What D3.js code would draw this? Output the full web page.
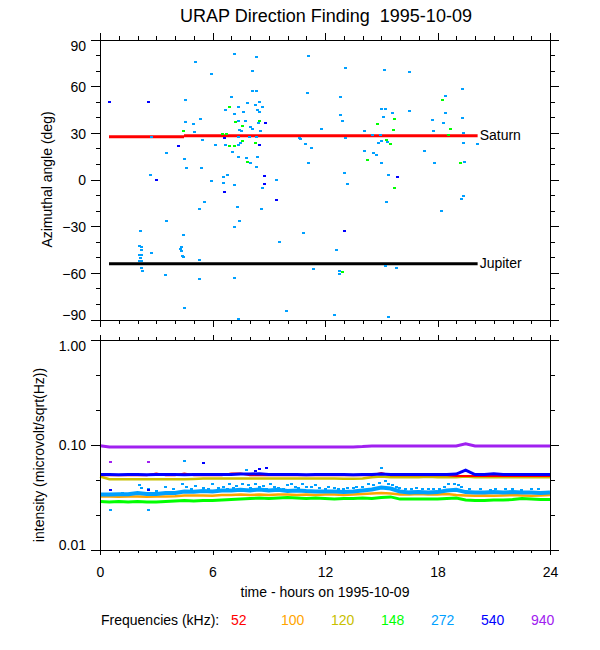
<!DOCTYPE html>
<html>
<head>
<meta charset="utf-8">
<script src="https://cdn.jsdelivr.net/npm/d3@7"></script>
<style>
body { margin: 0; background: #fff; }
text { font-family: "Liberation Sans", Arial, Helvetica, sans-serif; }
</style>
</head>
<body>
<div id="chart"></div>
<script>
// ---- data ----
var freqLabels = ["52", "100", "120", "148", "272", "540", "940"];
var freqColors = ["#ff0000", "#ffa500", "#c8c000", "#00ff00", "#00a0ff", "#0000ff", "#a020f0"];

var azTicks = [-90, -60, -30, 0, 30, 60, 90];
var azMinor = [-80, -70, -50, -40, -20, -10, 10, 20, 40, 50, 70, 80];
var intTicks = [0.01, 0.1, 1];
var intMinor = [0.0215, 0.0464, 0.215, 0.464];
var hourTicks = [0, 6, 12, 18, 24];
var hourMinor = [1, 2, 3, 4, 5, 7, 8, 9, 10, 11, 13, 14, 15, 16, 17, 19, 20, 21, 22, 23];

// planet directions: [start hour, end hour, azimuth]
var saturnSegs = [[0.48, 4.48, 27.5], [4.48, 20.14, 28.1]];
var jupiterSegs = [[0.48, 20.14, -54.2]];

// direction finding points [hour, azimuth]
var df272 = [[5.07,75.7],[5.96,67.7],[7.18,80.8],[8.37,78.6],[8.14,69.9],[7.00,52.9],[8.11,56.6],[8.36,56.6],
  [4.57,51.4],[8.50,50.1],[7.89,49.1],[8.28,47.8],[7.36,46.3],[8.66,46.9],[6.70,44.5],[8.39,44.8],[7.18,42.0],
  [7.63,43.1],[8.53,43.1],[5.35,39.0],[4.55,36.8],[5.00,35.5],[7.40,37.9],[7.77,37.9],[8.05,33.6],[8.44,36.2],
  [7.43,32.0],[7.52,31.5],[8.14,32.6],[8.57,31.5],[4.53,13.5],[5.03,30.4],[2.77,27.4],[5.44,25.3],[7.40,27.2],
  [7.95,27.2],[8.36,27.2],[6.17,22.5],[6.70,22.5],[7.38,22.3],[7.50,23.3],[3.56,17.2],[7.08,17.4],[7.36,14.6],
  [7.82,14.1],[8.41,14.6],[8.04,10.5],[4.62,7.3],[5.40,7.3],[8.36,7.9],[2.67,2.8],[6.56,1.9],[6.79,3.0],[9.42,0],
  [10.65,26.4],[11.11,79.5],[13.08,72.0],[15.16,70.3],[16.52,69.0],[11.09,55.5],[12.85,52.9],[18.42,53.6],
  [19.34,58.3],[14.99,45.4],[15.25,45.6],[12.82,41.6],[15.13,40.5],[15.61,42.6],[16.52,43.9],[18.42,42.6],
  [12.94,37.3],[17.74,38.1],[19.34,39.4],[18.33,36.2],[11.79,32.6],[14.10,31.0],[17.80,30.9],[19.38,29.8],
  [10.67,26.2],[13.10,27.0],[14.52,28.9],[14.97,28.3],[10.95,23.1],[14.99,24.6],[15.31,24.4],[14.84,23.3],
  [19.38,23.6],[20.14,23.0],[11.27,20.1],[14.13,18.2],[14.56,16.9],[14.72,15.9],[17.32,18.2],[15.02,10.3],
  [17.83,10.7],[19.45,11.1],[11.11,10.3],[13.05,4.5],[15.38,3.0],[5.92,-1.1],[6.58,-2.4],[7.16,-3.4],[8.69,-5.6],
  [5.58,-14.6],[5.30,-18.8],[7.32,-17.4],[8.60,-18.8],[3.54,-26.6],[7.43,-26.6],[2.17,-33.0],[7.16,-30.4],
  [4.44,-35.5],[9.56,-40.0],[2.13,-42.6],[2.19,-43.5],[2.22,-45.6],[2.10,-48.4],[2.22,-48.4],[2.17,-50.6],
  [2.19,-52.5],[2.12,-52.5],[2.77,-47.4],[4.36,-43.7],[4.36,-45.8],[4.30,-44.4],[4.39,-48.9],[4.44,-49.9],
  [5.33,-51.6],[2.19,-57.2],[2.28,-58.5],[3.48,-61.3],[5.33,-63.8],[7.15,-63.5],[4.52,-82.7],[7.41,-89.5],
  [9.96,-84.4],[13.19,-3.0],[19.39,-10.5],[19.27,-12.4],[15.29,-14.3],[18.20,-20.1],[10.84,-34.7],[12.62,-45.6],
  [11.38,-57.4],[12.75,-58.5],[12.75,-60.6],[15.25,-55.9],[15.80,-57.0],[12.50,-87.2],[15.41,-88.1]];
var df148 = [[6.93,46.7],[7.25,36.8],[7.61,34.1],[8.52,37.5],[4.44,31.5],[6.54,29.4],[6.76,29.4],[6.90,21.4],
  [7.15,21.7],[7.61,24.6],[8.30,23.6],[7.88,11.1],[18.26,51.0],[15.70,39.2],[14.79,35.8],[15.66,32.1],[18.67,32.3],
  [18.60,28.5],[15.27,25.3],[15.47,23.1],[14.28,12.4],[19.22,10.7],[15.73,-5.3],[12.94,-59.3]];
var df540 = [[0.53,50.1],[2.60,50.1],[8.80,36.2],[6.63,27.0],[8.50,22.0],[4.16,21.7],[3.02,0],[8.75,2.4],
  [8.75,-3.2],[6.63,-7.9],[9.39,-13.3],[15.84,1.5],[13.03,-33.0]];

// intensity time series, every half hour
var hours = [0,0.5,1,1.5,2,2.5,3,3.5, 4,4.5,5,5.5,6,6.5,7,7.5, 8,8.5,9,9.5,10,10.5,11,11.5,
  12,12.5,13,13.5,14,14.5,15,15.5, 16,16.5,17,17.5,18,18.5,19,19.5, 20,20.5,21,21.5,22,22.5,23,23.5, 24];
var int52 = [0.051,0.051,0.051,0.051,0.051,0.051,0.0528,0.051, 0.051,0.0528,0.051,0.051,0.051,0.051,0.0528,0.053,
  0.051,0.051,0.051,0.051,0.051,0.051,0.051,0.051, 0.051,0.051,0.051,0.051,0.051,0.051,0.0535,0.051,
  0.051,0.051,0.051,0.051,0.051,0.051,0.050,0.050, 0.050,0.050,0.050,0.050,0.050,0.050,0.050,0.050, 0.050];
var int100 = [0.032,0.032,0.0318,0.032,0.032,0.0318,0.032,0.032, 0.0322,0.0327,0.0327,0.0327,0.0325,0.033,0.033,0.0334,
  0.033,0.0334,0.033,0.0334,0.0334,0.033,0.0334,0.033, 0.0334,0.0334,0.033,0.0334,0.0338,0.0341,0.0345,0.0341,
  0.0334,0.0334,0.0338,0.0334,0.0334,0.0338,0.033,0.0327, 0.0325,0.0327,0.0325,0.0327,0.033,0.0327,0.0325,0.0327, 0.033];
var int120 = [0.0495,0.0466,0.0466,0.0466,0.0466,0.0466,0.0466,0.0466, 0.0466,0.0466,0.047,0.0475,0.0475,0.0475,0.0475,0.0475,
  0.0475,0.0475,0.0475,0.0475,0.0475,0.0475,0.0475,0.0475, 0.0475,0.0475,0.0472,0.0472,0.0475,0.0488,0.0496,0.0488,
  0.0488,0.0488,0.0488,0.0492,0.0488,0.0488,0.0488,0.0496, 0.0488,0.0488,0.0488,0.0488,0.0488,0.0488,0.0488,0.0488, 0.0488];
var int148 = [0.0286,0.0283,0.0286,0.0283,0.0286,0.0283,0.0283,0.0286, 0.0289,0.0293,0.0289,0.0293,0.0293,0.0296,0.0299,0.0302,
  0.0306,0.0309,0.0306,0.0309,0.0313,0.0309,0.0306,0.0309, 0.0306,0.0302,0.0306,0.0306,0.0309,0.0306,0.0313,0.0317,
  0.0302,0.0302,0.0302,0.0302,0.0302,0.0306,0.0309,0.0296, 0.0293,0.0293,0.0296,0.0296,0.0299,0.0306,0.0302,0.0299, 0.0299];
var int272 = [0.0334,0.0334,0.0336,0.0336,0.0345,0.0338,0.0338,0.0345, 0.0345,0.0357,0.0355,0.036,0.0357,0.0365,0.0365,0.037,
  0.0365,0.0373,0.0365,0.037,0.036,0.0365,0.036,0.0357, 0.0357,0.0357,0.0352,0.0357,0.0365,0.0373,0.0389,0.0381,
  0.0357,0.035,0.0352,0.0349,0.0352,0.0365,0.037,0.0352, 0.0349,0.0349,0.0352,0.0349,0.0352,0.0349,0.0349,0.0345, 0.0349];
var int540 = [0.0518,0.0518,0.0515,0.0518,0.0518,0.0515,0.0518,0.0518, 0.0518,0.0515,0.0518,0.0518,0.0518,0.0518,0.0518,0.0523,
  0.0523,0.0527,0.0518,0.0518,0.0518,0.0518,0.0515,0.0518, 0.0518,0.0518,0.0518,0.0515,0.0518,0.0518,0.0523,0.0518,
  0.0518,0.0518,0.0518,0.0518,0.0518,0.0518,0.0523,0.057, 0.0518,0.0518,0.0527,0.0518,0.0518,0.0518,0.0518,0.0518, 0.0518];
var int940 = [0.0975,0.0945,0.0945,0.0945,0.0945,0.0945,0.0945,0.0945, 0.0945,0.0945,0.0945,0.0945,0.0945,0.0945,0.0945,0.0945,
  0.0945,0.0945,0.0945,0.0945,0.0945,0.0945,0.0945,0.0945, 0.0945,0.0945,0.0945,0.0945,0.0955,0.097,0.097,0.097,
  0.097,0.097,0.097,0.097,0.097,0.097,0.097,0.1015, 0.097,0.097,0.097,0.097,0.097,0.097,0.097,0.097, 0.097];

// scattered intensity samples [hour, value]
var scatter272 = [[2.1,0.0407],[2.2,0.0389],[2.6,0.0373],[3.5,0.039],[4.4,0.0416],[4.6,0.0398],[5.1,0.040],[5.5,0.0389],
  [6.0,0.0416],[6.6,0.0398],[6.9,0.0425],[7.3,0.040],[7.6,0.0416],[8.0,0.0389],[8.3,0.0425],[8.7,0.040],[9.1,0.0416],
  [9.5,0.0389],[10.0,0.0407],[10.4,0.039],[10.8,0.0425],[11.3,0.0398],[11.7,0.0389],[12.2,0.0398],[12.7,0.0381],
  [13.2,0.0389],[13.7,0.0398],[14.3,0.0416],[14.9,0.043],[15.2,0.0445],[15.4,0.0425],[15.8,0.0398],[16.3,0.0381],
  [16.9,0.0389],[17.5,0.0381],[18.1,0.0381],[18.6,0.0416],[18.9,0.0425],[19.3,0.0398],[20.3,0.0373],[21.1,0.0381],
  [22.0,0.0373],[23.4,0.0381],
  [6.3,0.0389],[6.8,0.0373],[7.1,0.0389],[7.9,0.0407],[8.1,0.0373],[8.5,0.0398],[8.9,0.0381],[9.3,0.0398],
  [9.8,0.0381],[10.2,0.0425],[10.6,0.0389],[11.0,0.0398],[11.5,0.0407],[12.0,0.0381],[12.5,0.0389],[13.0,0.0381],
  [13.5,0.0389],[14.0,0.0398],[14.6,0.0407],[15.6,0.0407],[16.0,0.0389],[16.6,0.0373],[17.2,0.0373],[17.8,0.0373],
  [18.4,0.0398],[19.1,0.0407],[19.7,0.0373],[20.8,0.0365],[21.6,0.0373],[22.5,0.0365],[23.0,0.0373],[1.2,0.0349],
  [3.0,0.0357],[3.9,0.0373],[4.9,0.0381],[5.8,0.0373],
  [0.55,0.0236],[2.6,0.0236],[4.5,0.069],[7.8,0.0566],[15.0,0.0593],[15.0,0.0526]];
var scatter540 = [[0.55,0.0365],[2.6,0.037],[5.5,0.067],[8.3,0.056],[8.5,0.0585],[8.9,0.060]];
var scatter940 = [[0.55,0.0686],[2.6,0.0686]];

// ---- layout ----
var W = 600, H = 650;
var xLeft = 100, xRight = 550;
var top1 = 39.5, bot1 = 319.5, top2 = 339.5, bot2 = 549.5;

var svg = d3.select("#chart").append("svg").attr("width", W).attr("height", H);
svg.append("rect").attr("width", W).attr("height", H).style("fill", "#fff");

var x = d3.scaleLinear().domain([0, 24]).range([xLeft, xRight]);
var yAz = d3.scaleLinear().domain([-90, 90]).range([bot1, top1]);
var yInt = d3.scaleLog().domain([0.01, 1]).range([bot2, top2]);

function styleAxis(g) {
    g.selectAll("line,path").attr("stroke", "#000").attr("stroke-width", 1).attr("shape-rendering", "crispEdges");
    g.selectAll("text").style("font-size", "14px").style("fill", "#000");
}

function drawFrame(yScale, yMajor, yMinor, yFmt, top, bot, xMaj, xMin, xLabels) {
    var yMin = yScale.domain()[0], yMax = yScale.domain()[1];
    // left
    var gl = svg.append("g").attr("transform", "translate(" + xLeft + ",0)")
        .call(d3.axisLeft(yScale).tickValues(yMajor).tickSize(9).tickPadding(5).tickSizeOuter(0).tickFormat(yFmt));
    gl.selectAll("text").attr("transform", function (d) {
        if (d == yMax) return "translate(0,6.5)";
        if (d == yMin) return "translate(0,-4)";
        return "translate(0,1)";
    });
    styleAxis(gl);
    styleAxis(svg.append("g").attr("transform", "translate(" + xLeft + ",0)")
        .call(d3.axisLeft(yScale).tickValues(yMinor).tickSize(4).tickSizeOuter(0).tickFormat("")));
    // right
    styleAxis(svg.append("g").attr("transform", "translate(" + xRight + ",0)")
        .call(d3.axisRight(yScale).tickValues(yMajor).tickSize(9).tickSizeOuter(0).tickFormat("")));
    styleAxis(svg.append("g").attr("transform", "translate(" + xRight + ",0)")
        .call(d3.axisRight(yScale).tickValues(yMinor).tickSize(5).tickSizeOuter(0).tickFormat("")));
    // top
    styleAxis(svg.append("g").attr("transform", "translate(0," + top + ")")
        .call(d3.axisTop(x).tickValues(hourTicks).tickSize(xMaj).tickSizeOuter(0).tickFormat("")));
    styleAxis(svg.append("g").attr("transform", "translate(0," + top + ")")
        .call(d3.axisTop(x).tickValues(hourMinor).tickSize(xMin).tickSizeOuter(0).tickFormat("")));
    // bottom
    var gb = svg.append("g").attr("transform", "translate(0," + bot + ")")
        .call(d3.axisBottom(x).tickValues(hourTicks).tickSize(xMaj).tickSizeOuter(0)
            .tickFormat(xLabels ? d3.format("d") : ""));
    gb.selectAll("text").attr("y", 17.5);
    styleAxis(gb);
    styleAxis(svg.append("g").attr("transform", "translate(0," + bot + ")")
        .call(d3.axisBottom(x).tickValues(hourMinor).tickSize(xMin).tickSizeOuter(0).tickFormat("")));
}

// ---- title ----
svg.append("text").attr("x", 326).attr("y", 22).attr("text-anchor", "middle")
    .style("font-size", "18px").style("fill", "#000").style("white-space", "pre")
    .text("URAP Direction Finding  1995-10-09");

// ---- top panel: azimuth ----
var planets = svg.append("g");
planets.selectAll("line.sat").data(saturnSegs).enter().append("line").attr("class", "sat")
    .attr("x1", function (d) { return x(d[0]); }).attr("x2", function (d) { return x(d[1]); })
    .attr("y1", function (d) { return yAz(d[2]); }).attr("y2", function (d) { return yAz(d[2]); })
    .style("stroke", "#ff0000").style("stroke-width", 3);
planets.selectAll("line.jup").data(jupiterSegs).enter().append("line").attr("class", "jup")
    .attr("x1", function (d) { return x(d[0]); }).attr("x2", function (d) { return x(d[1]); })
    .attr("y1", function (d) { return yAz(d[2]); }).attr("y2", function (d) { return yAz(d[2]); })
    .style("stroke", "#000").style("stroke-width", 3);
planets.append("text").attr("x", x(saturnSegs[1][1]) + 2).attr("y", yAz(saturnSegs[1][2]) + 4.5)
    .style("font-size", "14px").style("fill", "#000").text("Saturn");
planets.append("text").attr("x", x(jupiterSegs[0][1]) + 2).attr("y", yAz(jupiterSegs[0][2]) + 4.5)
    .style("font-size", "14px").style("fill", "#000").text("Jupiter");

function drawDots(g, data, yScale, color) {
    g.selectAll(null).data(data).enter().append("rect")
        .attr("x", function (d) { return Math.round(x(d[0]) - 1.5); })
        .attr("y", function (d) { return Math.round(yScale(d[1]) - 1); })
        .attr("width", 3).attr("height", 2)
        .style("fill", color);
}
var dots = svg.append("g");
drawDots(dots, df272, yAz, freqColors[4]);
drawDots(dots, df148, yAz, freqColors[3]);
drawDots(dots, df540, yAz, freqColors[5]);

drawFrame(yAz, azTicks, azMinor, d3.format("d"), top1, bot1, 7, 4, false);

svg.append("text").attr("transform", "translate(52," + ((top1 + bot1) / 2) + ") rotate(-90)")
    .attr("text-anchor", "middle").style("font-size", "14px").style("fill", "#000")
    .text("Azimuthal angle (deg)");

// ---- bottom panel: intensity ----
var line = d3.line()
    .x(function (d, i) { return x(hours[i]); })
    .y(function (d) { return yInt(d); });

var traces = svg.append("g");
function drawTrace(values, color, width) {
    traces.append("path").datum(values).attr("d", line)
        .style("fill", "none").style("stroke", color).style("stroke-width", width)
        .style("stroke-linejoin", "miter");
}
drawTrace(int100, freqColors[1], 2.5);
drawTrace(int120, freqColors[2], 2.5);
drawTrace(int148, freqColors[3], 3);
drawTrace(int272, freqColors[4], 4);
drawDots(traces, scatter272, yInt, freqColors[4]);
drawTrace(int52, freqColors[0], 2);
drawTrace(int540, freqColors[5], 3);
drawDots(traces, scatter540, yInt, freqColors[5]);
drawTrace(int940, freqColors[6], 3);
drawDots(traces, scatter940, yInt, freqColors[6]);

drawFrame(yInt, intTicks, intMinor, d3.format(".2f"), top2, bot2, 5, 3, true);

svg.append("text").attr("transform", "translate(44," + 455 + ") rotate(-90)")
    .attr("text-anchor", "middle").style("font-size", "14px").style("fill", "#000")
    .text("intensity (microvolt/sqrt(Hz))");

svg.append("text").attr("x", 325).attr("y", 597).attr("text-anchor", "middle")
    .style("font-size", "14px").style("fill", "#000").text("time - hours on 1995-10-09");

// ---- frequency legend ----
var legend = svg.append("g").attr("transform", "translate(0,625)");
legend.append("text").attr("x", 101).attr("y", 0).style("font-size", "14px").style("fill", "#000")
    .text("Frequencies (kHz):");
legend.selectAll("text.freq").data(freqLabels).enter().append("text").attr("class", "freq")
    .attr("x", function (d, i) { return 231 + i * 50; }).attr("y", 0)
    .style("font-size", "14px")
    .style("fill", function (d, i) { return freqColors[i]; })
    .text(function (d) { return d; });
</script>
</body>
</html>
